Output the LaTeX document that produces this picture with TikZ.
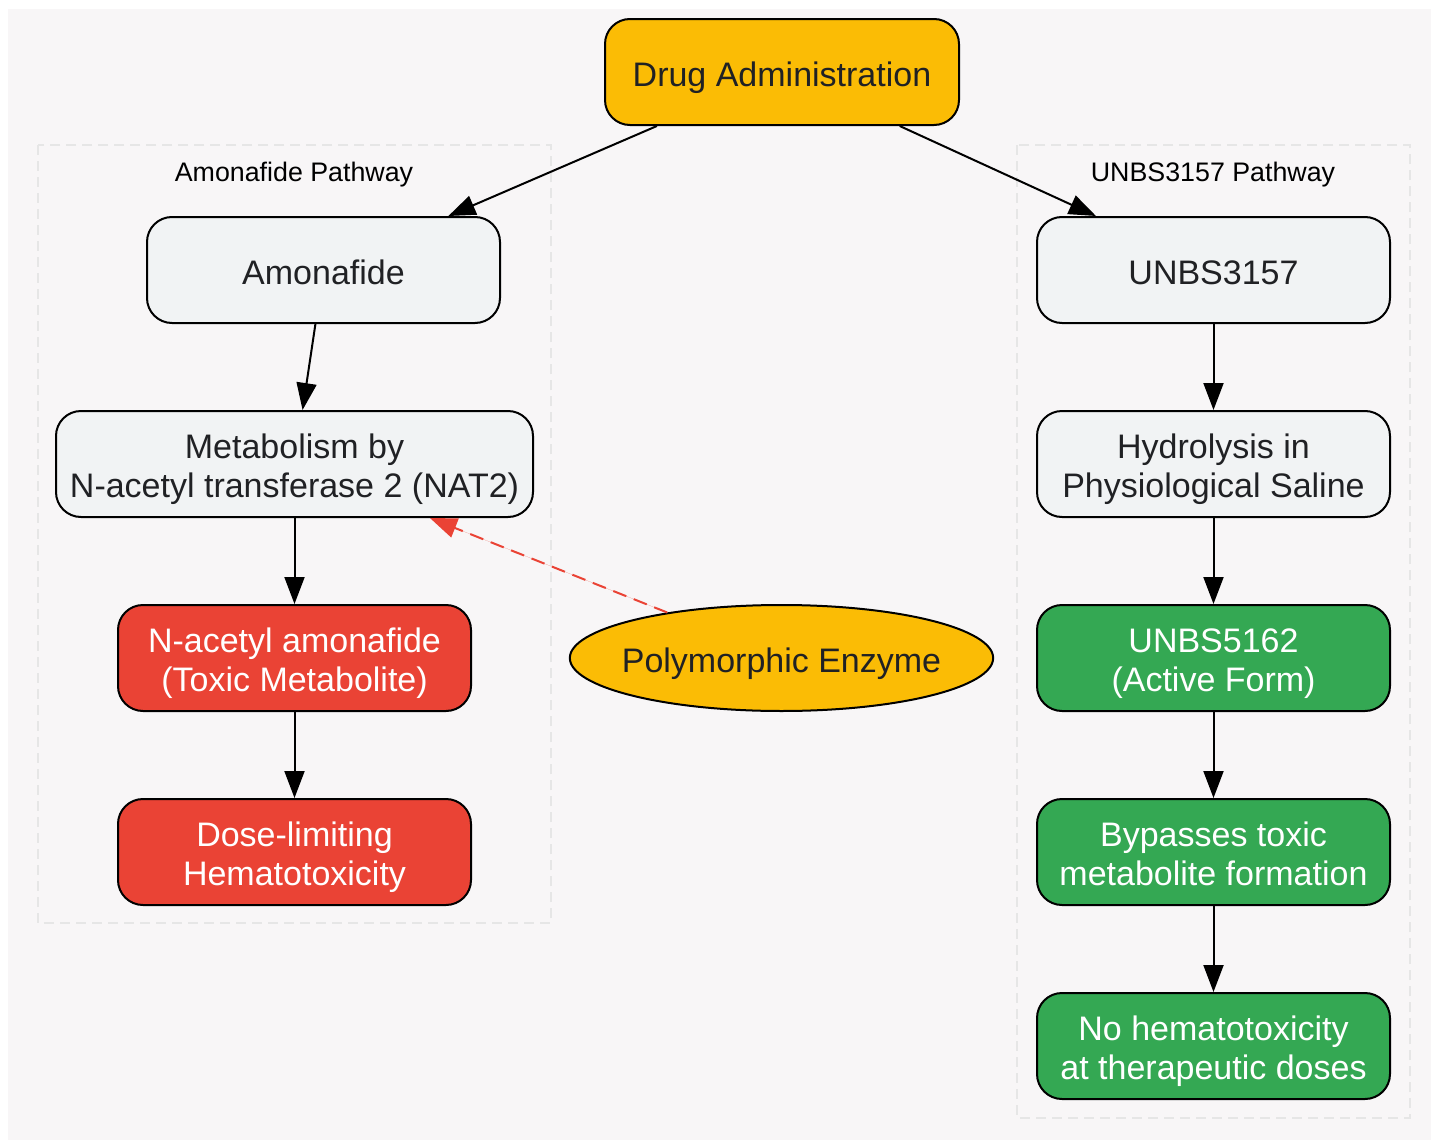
\documentclass[tikz,border=0pt]{standalone}
\usepackage{fontspec}
\setmainfont{Liberation Sans}
\usetikzlibrary{arrows.meta,shapes.geometric}

\definecolor{bgcol}{HTML}{F8F6F7}
\definecolor{boxgrey}{HTML}{F1F3F4}
\definecolor{txtdark}{HTML}{202124}
\definecolor{amber}{HTML}{FBBC05}
\definecolor{redtox}{HTML}{EA4335}
\definecolor{greenok}{HTML}{34A853}
\definecolor{clustline}{HTML}{E6E6E6}

\tikzset{
  nodefont/.style={text=txtdark, font=\fontsize{17}{19.5}\selectfont,
    text height=18.5pt, text depth=4.5pt},
  twolines/.style={text height=37.7pt, text depth=4.5pt},
  stepnode/.style={nodefont, draw=black, line width=1pt, rounded corners=12.5pt,
    minimum width=176.5pt, minimum height=53pt, inner sep=2pt, align=center},
  greybox/.style={stepnode, fill=boxgrey},
  redbox/.style={stepnode, twolines, fill=redtox, text=white},
  greenbox/.style={stepnode, twolines, fill=greenok, text=white},
  flow/.style={line width=1pt, -{Triangle[length=13.5pt,width=10pt]}},
  cluster/.style={draw=clustline, line width=0.8pt, dash pattern=on 5pt off 3pt},
  clusterlabel/.style={font=\fontsize{13.4}{15}\selectfont, text=black},
}

\begin{document}
\begin{tikzpicture}[x=0.5pt, y=-0.5pt]
  \useasboundingbox (0,0) rectangle (1431,1140);
  \fill[bgcol] (8,9) rectangle (1431,1140);

  % pathway frames
  \draw[cluster] (38,145) rectangle (551,923);
  \draw[cluster] (1017,145) rectangle (1410,1118);
  \node[clusterlabel] (amonlabel) at (294,175) {Amonafide Pathway};
  \node[clusterlabel] (unbslabel) at (1213,175) {UNBS3157 Pathway};

  % top
  \node[stepnode, fill=amber, minimum width=177pt] (drug) at (782,72) {Drug Administration};

  % amonafide side
  \node[greybox] (amon) at (323.5,270) {Amonafide};
  \node[greybox, twolines, minimum width=238.5pt] (nat) at (294.5,464) {Metabolism by\\N-acetyl transferase 2 (NAT2)};
  \node[redbox] (acetyl) at (294.5,658) {N-acetyl amonafide\\(Toxic Metabolite)};
  \node[redbox] (dose) at (294.5,852) {Dose-limiting\\Hematotoxicity};

  \node[nodefont, ellipse, draw=black, line width=1pt, fill=amber, minimum width=211.5pt,
    minimum height=53pt, inner xsep=-5pt, inner ysep=0pt] (poly) at (781.5,658) {Polymorphic Enzyme};

  % unbs side
  \node[greybox] (unbs) at (1213.5,270) {UNBS3157};
  \node[greybox, twolines] (hydro) at (1213.5,464) {Hydrolysis in\\Physiological Saline};
  \node[greenbox] (active) at (1213.5,658) {UNBS5162\\(Active Form)};
  \node[greenbox] (bypass) at (1213.5,852) {Bypasses toxic\\metabolite formation};
  \node[greenbox] (nohema) at (1213.5,1046) {No hematotoxicity\\at therapeutic doses};

  \draw[flow] (drug) -- (amon);
  \draw[flow] (drug) -- (unbs);
  \draw[flow] (amon) -- (nat);
  \draw[flow] (nat) -- (acetyl);
  \draw[flow] (acetyl) -- (dose);
  \draw[flow] (unbs) -- (hydro);
  \draw[flow] (hydro) -- (active);
  \draw[flow] (active) -- (bypass);
  \draw[flow] (bypass) -- (nohema);
  \draw[flow, draw=redtox, fill=redtox, dash pattern=on 7pt off 4pt] (poly) -- (nat);
\end{tikzpicture}
\end{document}
